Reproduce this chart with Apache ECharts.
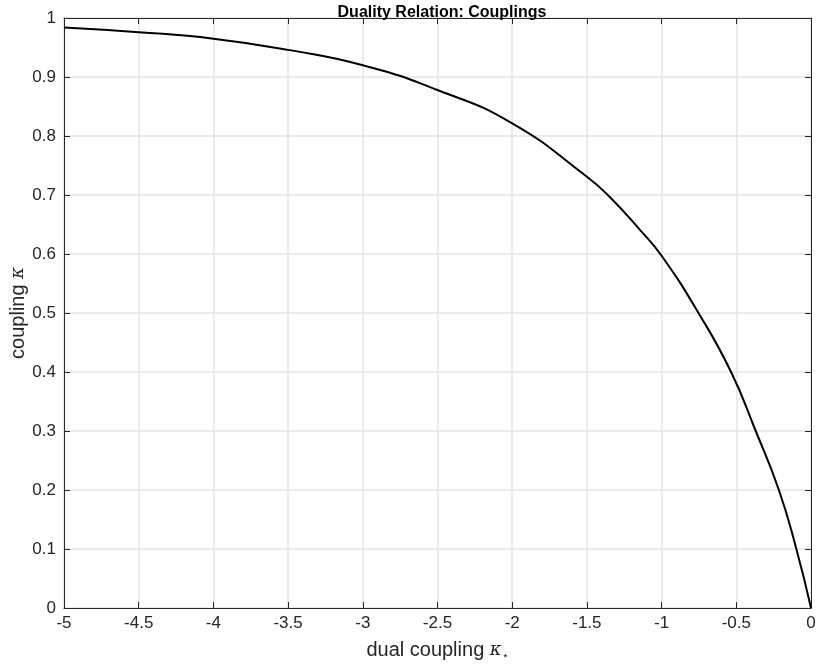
<!DOCTYPE html>
<html><head><meta charset="utf-8">
<script src="https://cdn.jsdelivr.net/npm/echarts@6/dist/echarts.min.js"></script>
<style>html,body{margin:0;padding:0;background:#fff}#c{width:817px;height:668px}</style>
</head><body><div id="c"></div>
<script>
const dualCoupling = [-5, -4.5, -4, -3.5, -3, -2.5, -2, -1.5, -1.36, -1.145, -1, -0.753, -0.535, -0.37, -0.215, -0.098, 0];
const coupling     = [0.984, 0.976, 0.965, 0.946, 0.920, 0.878, 0.8215, 0.731, 0.700, 0.641, 0.597, 0.500, 0.400, 0.300, 0.200, 0.100, 0];
const xTicks = [-5, -4.5, -4, -3.5, -3, -2.5, -2, -1.5, -1, -0.5, 0];
const yTicks = [0, 0.1, 0.2, 0.3, 0.4, 0.5, 0.6, 0.7, 0.8, 0.9, 1];

const ink = '#262626';
const font = 'Liberation Sans, Arial, Helvetica, sans-serif';
const chart = echarts.init(document.getElementById('c'));
const baseX = {
  type: 'value', min: -5, max: 0, interval: 0.5,
  axisLine: {show: true, onZero: false, lineStyle: {color: ink, width: 1}},
  axisTick: {show: true, inside: true, length: 6, lineStyle: {color: ink}},
};
const baseY = {
  type: 'value', min: 0, max: 1, interval: 0.1,
  axisLine: {show: true, onZero: false, lineStyle: {color: ink, width: 1}},
  axisTick: {show: true, inside: true, length: 6, lineStyle: {color: ink}},
};
chart.setOption({
  animation: false,
  backgroundColor: '#fff',
  title: {
    text: 'Duality Relation: Couplings', left: 437, top: 0, textAlign: 'center',
    textStyle: {fontFamily: font, fontSize: 16, fontWeight: 'bold', color: '#000'}
  },
  grid: {left: 64, right: 6, top: 18, bottom: 60, containLabel: false, outerBoundsMode: 'none'},
  xAxis: [
    Object.assign({}, baseX, {
      position: 'bottom',
      name: 'dual coupling {k|κ}{s|⋆}', nameLocation: 'middle', nameGap: 32, nameMoveOverlap: false,
      nameTextStyle: {fontFamily: font, fontSize: 20, color: ink,
        rich: {k: {fontFamily: 'DejaVu Serif', fontStyle: 'italic', fontSize: 18, color: ink},
               s: {fontSize: 11, color: ink, verticalAlign: 'bottom', padding: [10, 0, 0, 0]}}},
      axisLabel: {show: true, margin: 7, fontFamily: font, fontSize: 17, color: ink,
        formatter: v => xTicks.includes(v) ? String(v) : ''},
      splitLine: {show: true, lineStyle: {color: '#e3e3e3', width: 1.5}}
    }),
    Object.assign({}, baseX, {position: 'top', axisLabel: {show: false}, splitLine: {show: false}})
  ],
  yAxis: [
    Object.assign({}, baseY, {
      position: 'left',
      name: 'coupling {k|κ}', nameLocation: 'middle', nameGap: 36, nameRotate: 90, nameMoveOverlap: false,
      nameTextStyle: {fontFamily: font, fontSize: 20, color: ink,
        rich: {k: {fontFamily: 'DejaVu Serif', fontStyle: 'italic', fontSize: 18, color: ink}}},
      axisLabel: {show: true, margin: 8, fontFamily: font, fontSize: 17, color: ink,
        formatter: v => yTicks.some(t => Math.abs(t - v) < 1e-9) ? String(+v.toFixed(1)) : ''},
      splitLine: {show: true, lineStyle: {color: '#e3e3e3', width: 1.5}}
    }),
    Object.assign({}, baseY, {position: 'right', axisLabel: {show: false}, splitLine: {show: false}})
  ],
  series: [{
    type: 'line', xAxisIndex: 0, yAxisIndex: 0,
    data: dualCoupling.map((x, i) => [x, coupling[i]]),
    smooth: 0.5, showSymbol: false, symbol: 'none',
    lineStyle: {color: '#000', width: 2}
  }]
});
</script></body></html>
